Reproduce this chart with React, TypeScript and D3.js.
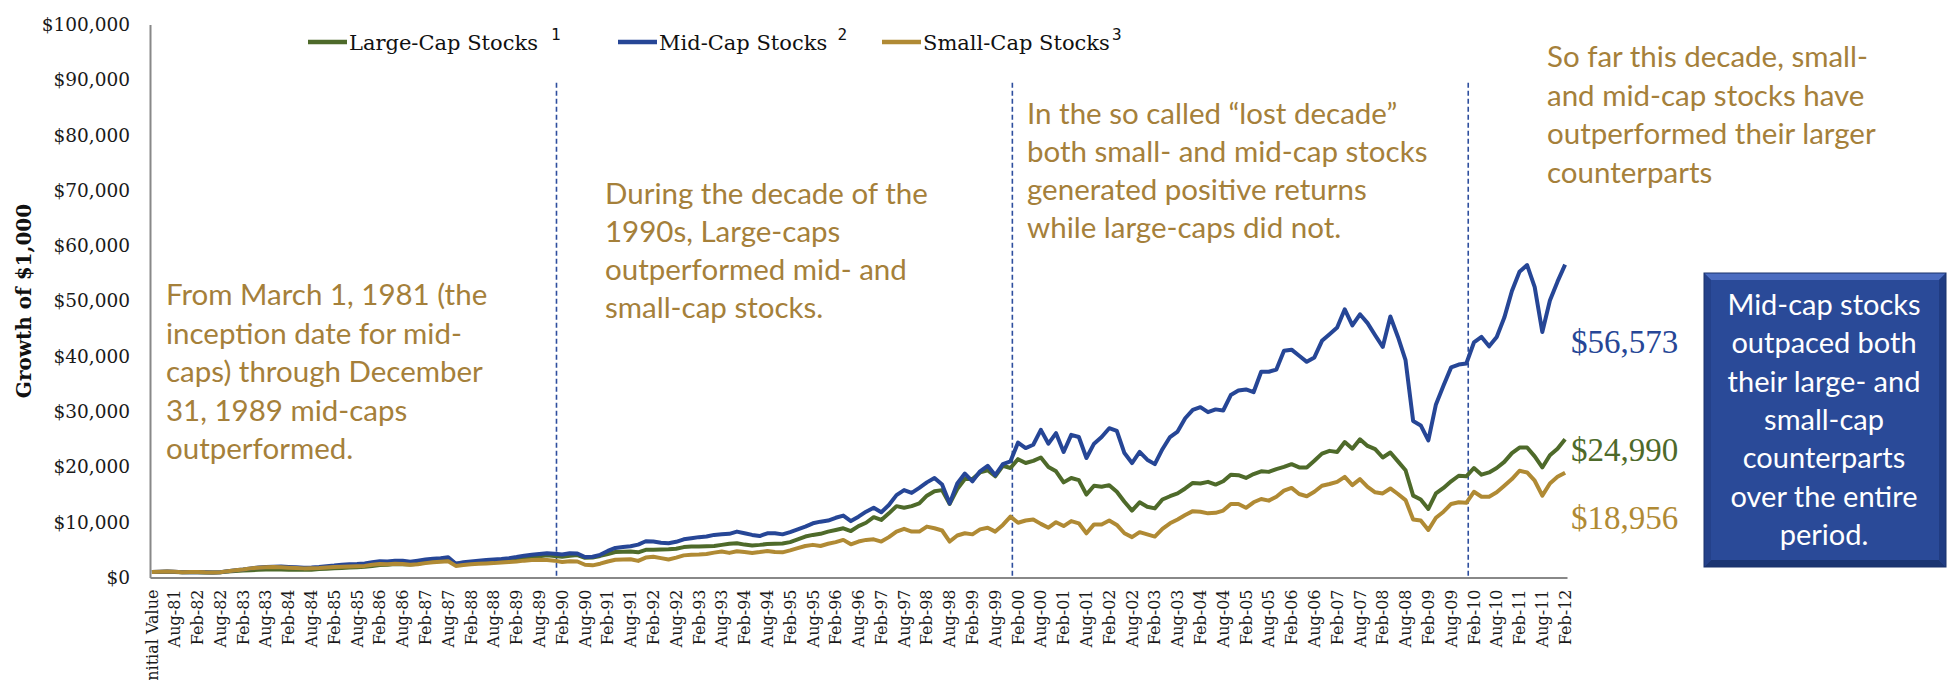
import React, { useEffect, useRef } from "react";
import * as d3 from "d3";

// monthly categories from the initial value (Feb-81) to Feb-12
const NUM_MONTHS = 373;

// axis labels shown every 6 months
const tickLabels = [
  "Initial Value", "Aug-81", "Feb-82", "Aug-82", "Feb-83", "Aug-83", "Feb-84", "Aug-84",
  "Feb-85", "Aug-85", "Feb-86", "Aug-86", "Feb-87", "Aug-87", "Feb-88", "Aug-88",
  "Feb-89", "Aug-89", "Feb-90", "Aug-90", "Feb-91", "Aug-91", "Feb-92", "Aug-92",
  "Feb-93", "Aug-93", "Feb-94", "Aug-94", "Feb-95", "Aug-95", "Feb-96", "Aug-96",
  "Feb-97", "Aug-97", "Feb-98", "Aug-98", "Feb-99", "Aug-99", "Feb-00", "Aug-00",
  "Feb-01", "Aug-01", "Feb-02", "Aug-02", "Feb-03", "Aug-03", "Feb-04", "Aug-04",
  "Feb-05", "Aug-05", "Feb-06", "Aug-06", "Feb-07", "Aug-07", "Feb-08", "Aug-08",
  "Feb-09", "Aug-09", "Feb-10", "Aug-10", "Feb-11", "Aug-11", "Feb-12",
];

const yTicks = [0, 10000, 20000, 30000, 40000, 50000, 60000, 70000, 80000, 90000, 100000];

// month index where each new decade starts (Jan-90, Jan-00, Jan-10)
const decadeStarts = [107, 227, 347];

// growth of $1,000, one reading every 2 months (Feb-81, Apr-81, ... Feb-12)
const largeCap = [
  1000, 1010, 1040, 990, 960, 990, 950, 920, 910, 960,
  1100, 1180, 1250, 1330, 1400, 1450, 1450, 1440, 1400, 1380,
  1400, 1420, 1520, 1580, 1680, 1720, 1800, 1850, 1950, 2100,
  2250, 2300, 2450, 2400, 2350, 2500, 2750, 2900, 3100, 3300,
  2500, 2600, 2700, 2800, 2850, 2900, 3000, 3150, 3350, 3550,
  3750, 3850, 4000, 3900, 3750, 3950, 4050, 3550, 3600, 3900,
  4250, 4600, 4650, 4700, 4550, 5000, 5000, 5050, 5100, 5200,
  5500, 5600, 5600, 5650, 5700, 5900, 6100, 6200, 5950, 5800,
  5900, 6050, 6100, 6150, 6400, 6900, 7400, 7700, 7900, 8300,
  8600, 8900, 8400, 9300, 9900, 10900, 10400, 11600, 12900, 12600,
  12900, 13400, 14800, 15600, 15800, 13300, 16000, 17800, 17800, 19000,
  19400, 18300, 20200, 19800, 21400, 20700, 21100, 21700, 20000, 19200,
  17200, 18000, 17600, 15000, 16600, 16400, 16700, 15500, 13700, 12100,
  13600, 12800, 12500, 14100, 14700, 15200, 16100, 17100, 17000, 17300,
  16800, 17400, 18600, 18500, 18000, 18700, 19200, 19100, 19600, 20000,
  20500, 19900, 19900, 21100, 22400, 22900, 22700, 24500, 23300, 25000,
  23800, 23200, 21700, 22600, 21000, 19400, 14800, 14100, 12400, 15200,
  16200, 17400, 18400, 18300, 19800, 18600, 19000, 19800, 20900, 22500,
  23500, 23500, 21900, 19900, 22100, 23300, 24990,
];

const midCap = [
  1000, 1050, 1080, 1020, 960, 990, 970, 930, 920, 960,
  1150, 1300, 1450, 1650, 1800, 1900, 1950, 1980, 1900, 1850,
  1780, 1820, 1900, 2050, 2150, 2300, 2400, 2450, 2550, 2750,
  2950, 2900, 3050, 3050, 2850, 3050, 3250, 3400, 3500, 3650,
  2500, 2750, 2900, 3050, 3150, 3250, 3350, 3500, 3700, 3950,
  4100, 4250, 4400, 4300, 4150, 4400, 4350, 3700, 3750, 4100,
  4800, 5350, 5500, 5650, 5950, 6550, 6500, 6300, 6200, 6450,
  6900, 7100, 7300, 7400, 7700, 7800, 7900, 8300, 8000, 7700,
  7500, 8000, 8000, 7800, 8200, 8700, 9200, 9800, 10100, 10300,
  10800, 11200, 10200, 11000, 11900, 12600, 11800, 13100, 14900, 15800,
  15300, 16200, 17200, 18000, 16800, 13400, 17000, 18800, 17400, 19200,
  20200, 18500, 20500, 21000, 24400, 23400, 24000, 26700, 24200, 26100,
  22700, 25800, 25400, 21600, 24200, 25400, 27000, 26500, 22500, 20700,
  22700, 21300, 20500, 23200, 25400, 26400, 28800, 30300, 30800, 29900,
  30400, 30200, 33000, 33800, 34000, 33500, 37200, 37200, 37600, 41000,
  41200, 40100, 39000, 39800, 42800, 44000, 45200, 48500, 45600, 47600,
  46000, 43800, 41700, 47200, 43500, 39300, 28300, 27500, 24800, 31300,
  34700, 38000, 38500, 38700, 42500, 43500, 41800, 43500, 47000, 51800,
  55300, 56500, 52500, 44400, 50100, 53500, 56573,
];

const smallCap = [
  1000, 1060, 1090, 1020, 960, 1000, 980, 930, 920, 960,
  1150, 1300, 1450, 1650, 1780, 1850, 1880, 1850, 1780, 1720,
  1650, 1680, 1720, 1800, 1900, 1950, 2000, 2050, 2100, 2300,
  2450, 2400, 2500, 2450, 2300, 2400, 2600, 2750, 2850, 2950,
  2100, 2250, 2400, 2500, 2550, 2600, 2700, 2800, 2900, 3050,
  3150, 3200, 3150, 3050, 2800, 2950, 2900, 2300, 2200, 2500,
  2900, 3200, 3250, 3300, 3000, 3600, 3750, 3500, 3250, 3600,
  4000, 4100, 4150, 4250, 4500, 4700, 4450, 4750, 4600, 4450,
  4600, 4800, 4600, 4550, 4900, 5300, 5700, 5900, 5700, 6100,
  6400, 6800, 6000, 6500, 6800, 6900, 6500, 7300, 8300, 8800,
  8300, 8300, 9200, 8900, 8500, 6500, 7600, 8000, 7800, 8700,
  9000, 8300, 9500, 11000, 9900, 10300, 10500, 9700, 9000, 10000,
  9300, 10200, 9800, 8000, 9600, 9600, 10300, 9500, 8000, 7300,
  8200, 7800, 7400, 8800, 9800, 10500, 11300, 12000, 11900, 11600,
  11700, 12100, 13300, 13300, 12600, 13600, 14200, 13900, 14600, 15700,
  16200, 15100, 14700, 15500, 16600, 16900, 17300, 18200, 16700, 17800,
  16400, 15400, 15200, 16100, 15100, 14000, 10500, 10300, 8600, 10800,
  11900, 13300, 13600, 13500, 15500, 14600, 14600, 15400, 16600, 17800,
  19300, 19000, 17500, 14800, 17000, 18200, 18956,
];

const seriesNames = ["Large-Cap Stocks", "Mid-Cap Stocks", "Small-Cap Stocks"];
const seriesNotes = ["1", "2", "3"];
const seriesValues = [largeCap, midCap, smallCap];
const seriesColors = ["#4E6A2A", "#264696", "#B08A34"];
const endLabels = ["$24,990", "$56,573", "$18,956"];

const notes1980s = ["From March 1, 1981 (the", "inception date for mid-", "caps) through December", "31, 1989 mid-caps", "outperformed."];
const notes1990s = ["During the decade of the", "1990s, Large-caps", "outperformed mid- and", "small-cap stocks."];
const notes2000s = ["In the so called \u201Clost decade\u201D", "both small- and mid-cap stocks", "generated positive returns", "while large-caps did not."];
const notes2010s = ["So far this decade, small-", "and mid-cap stocks have", "outperformed their larger", "counterparts"];
const boxNote = ["Mid-cap stocks", "outpaced both", "their large- and", "small-cap", "counterparts", "over the entire", "period."];

const W = 1947;
const H = 680;
const margin = { top: 24.5, right: 380, bottom: 102.5, left: 150 };
const SERIF = "'DejaVu Serif', serif";
const SERIF2 = "'Liberation Serif', serif";
const SANS = "Lato, 'Open Sans', sans-serif";
const NOTE_COLOR = "#A5803A";

export default function App() {
  const ref = useRef<SVGSVGElement>(null);

  useEffect(() => {
    const svg = d3.select(ref.current);
    svg.selectAll("*").remove();

    const x = d3
      .scaleBand<number>()
      .domain(d3.range(NUM_MONTHS))
      .range([margin.left, W - margin.right]);
    const xc = (i: number) => (x(i) as number) + x.bandwidth() / 2;
    const y = d3
      .scaleLinear()
      .domain([0, 100000])
      .range([H - margin.bottom, margin.top]);

    // Y axis
    const yAxis = svg
      .append("g")
      .attr("transform", `translate(${margin.left},0)`)
      .call(d3.axisLeft(y).tickValues(yTicks).tickFormat(d3.format("$,")).tickSize(0).tickPadding(20));
    yAxis.select(".domain").attr("stroke", "#888").attr("stroke-width", 2);
    yAxis
      .selectAll("text")
      .attr("font-family", SERIF)
      .attr("font-size", 18.5)
      .attr("fill", "#1a1a1a");

    // Y axis title
    svg
      .append("text")
      .attr("transform", `translate(24,${(margin.top + H - margin.bottom) / 2}) rotate(-90)`)
      .attr("text-anchor", "middle")
      .attr("dominant-baseline", "central")
      .attr("font-family", SERIF)
      .attr("font-weight", "bold")
      .attr("font-size", 20)
      .attr("fill", "#111")
      .text("Growth of $1,000");

    // X axis with rotated labels every 6 months
    const xAxis = svg
      .append("g")
      .attr("transform", `translate(0,${H - margin.bottom})`)
      .call(
        d3
          .axisBottom(x)
          .tickValues(tickLabels.map((_, i) => i * 6))
          .tickFormat((d) => tickLabels[(d as number) / 6])
          .tickSize(0)
      );
    xAxis.select(".domain").attr("stroke", "#888").attr("stroke-width", 2);
    xAxis
      .selectAll("text")
      .attr("x", -12)
      .attr("y", 0)
      .attr("dy", "0.35em")
      .attr("transform", "rotate(-90)")
      .attr("text-anchor", "end")
      .attr("font-family", SERIF)
      .attr("font-size", 16)
      .attr("fill", "#1a1a1a");

    // dashed decade separators
    svg
      .selectAll(".decade")
      .data(decadeStarts)
      .join("line")
      .attr("class", "decade")
      .attr("x1", (d) => x(d) as number)
      .attr("x2", (d) => x(d) as number)
      .attr("y1", y(90000) + 3)
      .attr("y2", H - margin.bottom)
      .attr("stroke", "#2E4E9E")
      .attr("stroke-width", 1.6)
      .attr("stroke-dasharray", "5,3");

    // series lines (small-cap drawn last, on top)
    const line = d3
      .line<number>()
      .x((_, j) => xc(j * 2))
      .y((d) => y(d));
    seriesValues.forEach((vals, k) => {
      svg
        .append("path")
        .datum(vals)
        .attr("d", line)
        .attr("fill", "none")
        .attr("stroke", seriesColors[k])
        .attr("stroke-width", 4)
        .attr("stroke-linejoin", "round");
    });

    // legend
    const legendX = [308, 618, 882];
    const noteGap = [18, 15, 7];
    seriesNames.forEach((name, k) => {
      const g = svg.append("g").attr("transform", `translate(${legendX[k]},42)`);
      g.append("line")
        .attr("x1", 0)
        .attr("x2", 39)
        .attr("stroke", seriesColors[k])
        .attr("stroke-width", 4.5);
      const t = g
        .append("text")
        .attr("x", 41)
        .attr("y", 7.5)
        .attr("font-family", SERIF)
        .attr("font-size", 21)
        .attr("fill", "#111")
        .text(name);
      const len = (t.node() as SVGTextElement).getComputedTextLength();
      g.append("text")
        .attr("x", 41 + len + noteGap[k])
        .attr("y", -2)
        .attr("text-anchor", "middle")
        .attr("font-family", "'DejaVu Sans Mono', monospace")
        .attr("font-size", 16)
        .attr("fill", "#111")
        .text(seriesNotes[k]);
    });

    // text notes for each decade
    const addNote = (lines: string[], x0: number, y0: number, step: number) => {
      const t = svg
        .append("text")
        .attr("font-family", SANS)
        .attr("font-size", 29.5)
        .attr("fill", NOTE_COLOR);
      lines.forEach((s, i) => {
        t.append("tspan").attr("x", x0).attr("y", y0 + i * step).text(s);
      });
    };
    addNote(notes1980s, 166, 305, 38.5);
    addNote(notes1990s, 605, 204, 38);
    addNote(notes2000s, 1027, 124, 38);
    addNote(notes2010s, 1547, 67, 38.5);

    // final values beside the line ends
    const endY = [461, 353, 529];
    endLabels.forEach((s, k) => {
      svg
        .append("text")
        .attr("x", 1571)
        .attr("y", endY[k])
        .attr("font-family", SERIF2)
        .attr("font-size", 33)
        .attr("fill", seriesColors[k])
        .text(s);
    });

    // blue callout box
    const bx = 1704, by = 273, bw = 242, bh = 294, e = 7;
    const box = svg.append("g");
    box.append("rect").attr("x", bx).attr("y", by).attr("width", bw).attr("height", bh).attr("fill", "#2A4A98");
    box.append("polygon")
      .attr("points", `${bx},${by} ${bx + bw},${by} ${bx + bw - e},${by + e} ${bx + e},${by + e}`)
      .attr("fill", "#4B6CC0");
    box.append("polygon")
      .attr("points", `${bx},${by + bh} ${bx + bw},${by + bh} ${bx + bw - e},${by + bh - e} ${bx + e},${by + bh - e}`)
      .attr("fill", "#1B3572");
    box.append("polygon")
      .attr("points", `${bx},${by} ${bx + e},${by + e} ${bx + e},${by + bh - e} ${bx},${by + bh}`)
      .attr("fill", "#24418A");
    box.append("polygon")
      .attr("points", `${bx + bw},${by} ${bx + bw - e},${by + e} ${bx + bw - e},${by + bh - e} ${bx + bw},${by + bh}`)
      .attr("fill", "#203C82");
    box.append("rect")
      .attr("x", bx).attr("y", by).attr("width", bw).attr("height", bh)
      .attr("fill", "none").attr("stroke", "#1A326C").attr("stroke-width", 1);
    const bt = box
      .append("text")
      .attr("text-anchor", "middle")
      .attr("font-family", SANS)
      .attr("font-size", 29)
      .attr("fill", "#fff");
    boxNote.forEach((s, i) => {
      bt.append("tspan").attr("x", bx + bw / 2 - 1).attr("y", 315 + i * 38.3).text(s);
    });
  }, []);

  return (
    <div style={{ position: "absolute", left: 0, top: 0 }}>
      <svg ref={ref} width={W} height={H} style={{ display: "block", background: "#fff" }} />
    </div>
  );
}
